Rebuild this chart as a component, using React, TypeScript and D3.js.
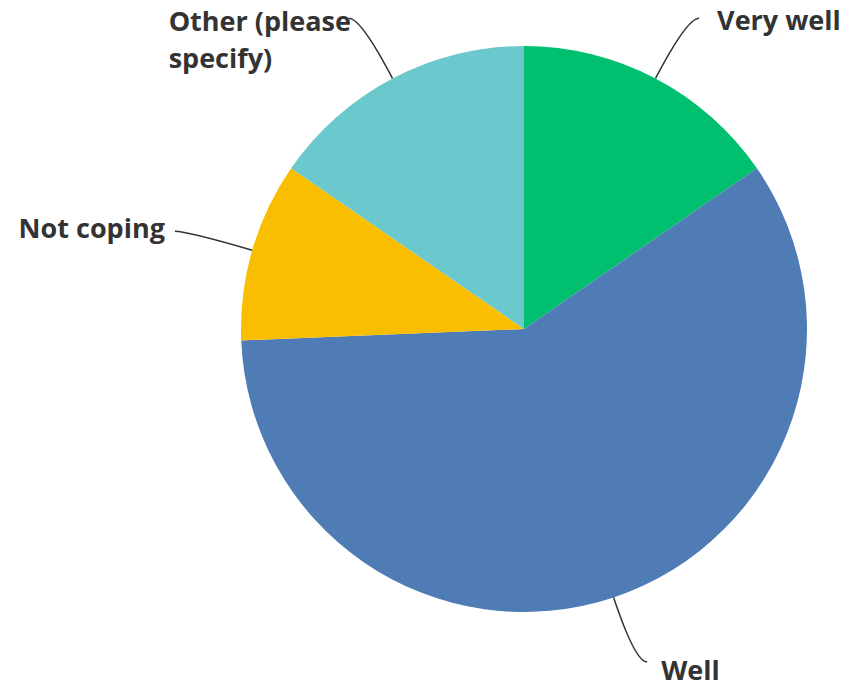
import * as d3 from "d3";
import { useLayoutEffect, useRef } from "react";

const categories = ["Very well", "Well", "Not coping", "Other (please specify)"];
const counts = [6, 23, 4, 6];
const colors = ["#00BF6F", "#507CB6", "#F9BE00", "#6BC8CD"];
// label text split into lines as shown
const labelLines = [["Very well"], ["Well"], ["Not coping"], ["Other (please", "specify)"]];

const width = 851;
const height = 686;
const cx = 524;
const cy = 329;
const radius = 283;

// small hand nudges so labels sit where the original puts them
const nudge: Record<string, [number, number]> = {
  "Very well": [6, 1],
  Well: [2, 7],
  "Not coping": [2, -4],
  "Other (please specify)": [14, 2],
};

export default function App() {
  const ref = useRef<SVGGElement | null>(null);
  const pie = d3
    .pie<number>()
    .sort(null)
    .value((d) => d);
  const arcs = pie(counts);
  const arc = d3.arc<d3.PieArcDatum<number>>().innerRadius(0).outerRadius(radius);

  const pt = (a: number, r: number): [number, number] => [Math.sin(a) * r, -Math.cos(a) * r];

  // left-side labels are left-aligned blocks: shift each block by its widest line
  useLayoutEffect(() => {
    if (!ref.current) return;
    d3.select(ref.current)
      .selectAll<SVGTextElement, unknown>("text.left")
      .each(function () {
        const t = d3.select(this);
        const right = +t.attr("data-right");
        const w = this.getBBox().width;
        t.selectAll("tspan").attr("x", right - w);
      });
  }, []);

  return (
    <svg
      width={width}
      height={height}
      style={{ position: "absolute", left: 0, top: 0 }}
      fontFamily="'Open Sans', 'Noto Sans', sans-serif"
    >
      <g transform={`translate(${cx},${cy})`} ref={ref}>
        {arcs.map((a, i) => (
          <path key={categories[i]} d={arc(a) ?? ""} fill={colors[i]} />
        ))}
        {arcs.map((a, i) => {
          const mid = (a.startAngle + a.endAngle) / 2;
          const side = Math.sin(mid) >= 0 ? 1 : -1;
          const p0 = pt(mid, radius);
          const pc = pt(mid, radius * 1.24);
          const p3: [number, number] = [pc[0] + side * 12, pc[1]];
          const [nx, ny] = nudge[categories[i]] ?? [0, 0];
          const tx = p3[0] + side * 12 + nx;
          const lines = labelLines[i];
          const lh = 37;
          const ty = p3[1] + ny + (lines.length > 1 ? lh / 2 - lh / 2 : 0);
          return (
            <g key={categories[i]}>
              <path
                d={`M${p0[0]},${p0[1]}Q${pc[0]},${pc[1]} ${p3[0]},${p3[1]}`}
                fill="none"
                stroke="#333"
                strokeWidth={1.5}
              />
              <text
                className={side > 0 ? "right" : "left"}
                data-right={tx}
                x={tx}
                y={ty}
                textAnchor="start"
                fontSize={27}
                fontWeight={700}
                fill="#333"
                dominantBaseline="central"
              >
                {lines.map((l, j) => (
                  <tspan key={l} x={tx} dy={j === 0 ? 0 : lh}>
                    {l}
                  </tspan>
                ))}
              </text>
            </g>
          );
        })}
      </g>
    </svg>
  );
}
